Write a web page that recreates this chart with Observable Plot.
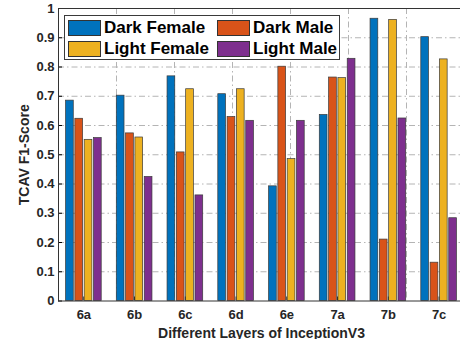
<!DOCTYPE html>
<html>
<head>
<meta charset="utf-8">
<script src="https://cdn.jsdelivr.net/npm/d3@7"></script>
<script src="https://cdn.jsdelivr.net/npm/@observablehq/plot@0.6"></script>
<style>
  html, body { margin: 0; padding: 0; overflow: hidden; background: #fff; width: 460px; height: 339px; }
  #wrap { position: relative; width: 466px; height: 339px; }
  #wrap svg { background: transparent !important; }
  #wrap svg text { font-family: "Liberation Sans", Arial, sans-serif !important; font-weight: bold !important; fill: #262626; }
  #wrap svg g[aria-label$="tick label"] text { font-size: 13px !important; }
  #wrap svg g[aria-label$="axis label"] text { font-size: 14px !important; }
  #gridlayer { position: absolute; left: 0; top: 0; z-index: 0; }
  #mainlayer { position: relative; z-index: 1; }
  #legend { position: absolute; left: 64px; top: 15px; width: 276px; height: 45px; box-sizing: border-box; z-index: 2;
            border: 1px solid #3a3a3a; background: #fff; padding: 1px 0 0 3px;
            display: grid; grid-template-columns: 149px auto; grid-auto-rows: 21px;
            font-family: "Liberation Sans", Arial, sans-serif; font-weight: bold; font-size: 17px; color: #000; }
  .item { display: flex; align-items: center; white-space: nowrap; }
  .sw { width: 31px; height: 14px; border: 1px solid #333; margin-right: 3px; flex: none; }
</style>
</head>
<body>
<div id="wrap"></div>
<script>
const layers = ["6a", "6b", "6c", "6d", "6e", "7a", "7b", "7c"];
const seriesNames = ["Dark Female", "Dark Male", "Light Female", "Light Male"];
const darkFemale  = [0.685, 0.702, 0.768, 0.707, 0.392, 0.636, 0.965, 0.902];
const darkMale    = [0.623, 0.573, 0.508, 0.629, 0.801, 0.764, 0.210, 0.131];
const lightFemale = [0.551, 0.559, 0.724, 0.724, 0.485, 0.762, 0.961, 0.826];
const lightMale   = [0.557, 0.424, 0.361, 0.616, 0.616, 0.828, 0.624, 0.283];
const seriesColors = ["#0072BD", "#D95319", "#EDB120", "#7E2F8E"];
const yTicks = [0, 0.1, 0.2, 0.3, 0.4, 0.5, 0.6, 0.7, 0.8, 0.9, 1];
const xTitle = "Different Layers of InceptionV3";
const yTitle = "TCAV F1-Score";

const seriesValues = [darkFemale, darkMale, lightFemale, lightMale];
const data = [];
layers.forEach((layer, i) => {
  seriesNames.forEach((s, j) => data.push({layer, series: s, value: seriesValues[j][i]}));
});

const dims = {width: 466, height: 339, marginLeft: 58, marginRight: 2, marginTop: 8, marginBottom: 38.5};
const gridStyle = {stroke: "#b4b4b4", strokeOpacity: 1, strokeWidth: 1, strokeDasharray: "6,3,1.5,3"};

// grid layer (same frame, non-faceted), drawn underneath
const gridChart = Plot.plot({
  ...dims,
  x: {domain: layers, padding: 0, round: false, axis: null},
  y: {domain: [0, 1], axis: null},
  marks: [
    Plot.gridY({ticks: yTicks.filter(d => d > 0 && d < 1), ...gridStyle}),
    Plot.gridX({ticks: layers, ...gridStyle})
  ]
});
gridChart.id = "gridlayer";

// main chart: grouped bars via fx facets
const chart = Plot.plot({
  ...dims,
  fx: {domain: layers, padding: 0, round: false, tickSize: -4, tickPadding: 13,
       label: xTitle, labelAnchor: "center", labelOffset: 37, labelArrow: "none"},
  x: {domain: seriesNames, paddingInner: 0.17, paddingOuter: 0.81, round: false, axis: null},
  y: {domain: [0, 1], ticks: yTicks, tickFormat: d => String(d), tickSize: -4, tickPadding: 8,
      label: yTitle, labelAnchor: "center", labelOffset: 39, labelArrow: "none"},
  color: {domain: seriesNames, range: seriesColors},
  marks: [
    Plot.barY(data, {fx: "layer", x: "series", y: "value", fill: "series", stroke: "#3a3a3a", strokeWidth: 0.7}),
    Plot.frame({facet: "super", stroke: "#333", strokeWidth: 1})
  ]
});
chart.id = "mainlayer";

const wrap = document.getElementById("wrap");
wrap.appendChild(gridChart);
wrap.appendChild(chart);

// legend
const legend = document.createElement("div");
legend.id = "legend";
seriesNames.forEach((s, i) => {
  const it = document.createElement("div");
  it.className = "item";
  const sw = document.createElement("span");
  sw.className = "sw";
  sw.style.background = seriesColors[i];
  const t = document.createElement("span");
  t.textContent = s;
  it.appendChild(sw); it.appendChild(t);
  legend.appendChild(it);
});
wrap.appendChild(legend);
</script>
</body>
</html>
